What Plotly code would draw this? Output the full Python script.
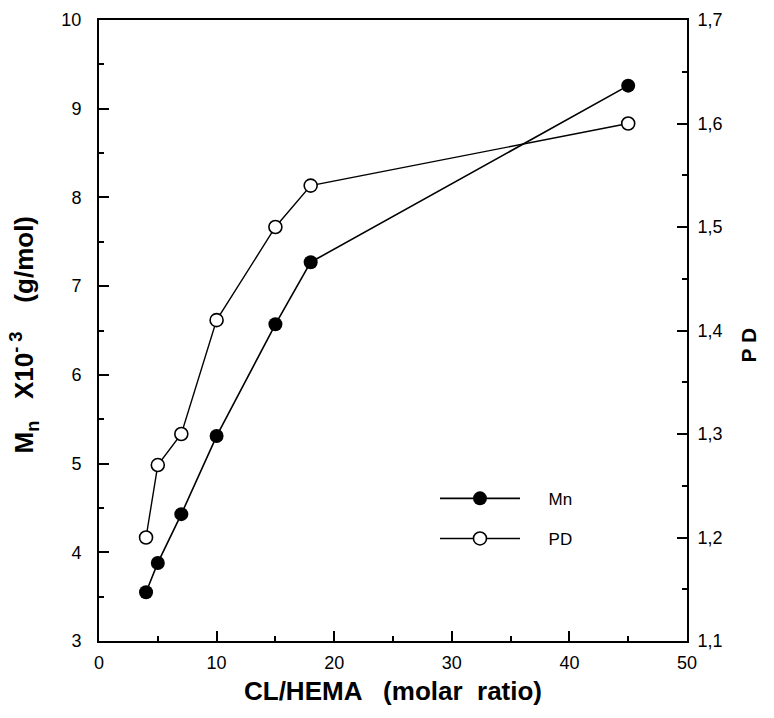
import plotly.graph_objects as go

ratio = [4, 5, 7, 10, 15, 18, 45]
mn = [3.55, 3.88, 4.43, 5.31, 6.57, 7.27, 9.26]
pd_vals = [1.20, 1.27, 1.30, 1.41, 1.50, 1.54, 1.60]

left_ticks = [3, 4, 5, 6, 7, 8, 9, 10]
right_ticks = [1.1, 1.2, 1.3, 1.4, 1.5, 1.6, 1.7]
right_labels = ["1,1", "1,2", "1,3", "1,4", "1,5", "1,6", "1,7"]
x_ticks = [0, 10, 20, 30, 40, 50]

NB = "\u00a0"

fig = go.Figure()
fig.add_trace(go.Scatter(
    x=ratio, y=mn, name=NB * 5 + "Mn", mode="lines+markers", legendgroup="a",
    line=dict(color="black", width=1.6),
    marker=dict(symbol="circle", size=14, color="black"),
))
fig.add_trace(go.Scatter(
    x=ratio, y=pd_vals, name=NB * 5 + "PD", mode="lines+markers", yaxis="y2", legendgroup="b",
    line=dict(color="black", width=1.4),
    marker=dict(symbol="circle", size=13, color="white", line=dict(color="black", width=1.6)),
))

font_tick = dict(family="Liberation Sans, Arial", size=18, color="black")
title_font = dict(family="Liberation Sans, Arial", size=26, color="black")

fig.update_layout(
    width=774, height=718,
    margin=dict(l=99, r=87, t=20, b=77, autoexpand=False),
    plot_bgcolor="white", paper_bgcolor="white",
    showlegend=True,
    legend=dict(x=0.5714, y=0.258, xanchor="left", yanchor="top",
                font=dict(family="Liberation Sans, Arial", size=17, color="black"),
                bgcolor="rgba(0,0,0,0)", itemwidth=80, tracegroupgap=15),
    xaxis=dict(range=[0, 50], tickvals=x_ticks, ticks="inside", ticklen=10, tickwidth=1.5,
               showline=True, linecolor="black", linewidth=2, mirror=True, automargin=False,
               showgrid=False, zeroline=False, tickfont=font_tick, ticklabelstandoff=4,
               minor=dict(ticks="inside", dtick=5, ticklen=5, tickwidth=1.5, tickcolor="black"),
               tickcolor="black",
               title=dict(text="<b>CL/HEMA   (molar  ratio)</b>", font=title_font, standoff=10)),
    yaxis=dict(range=[3, 10], tickvals=left_ticks, ticks="inside", ticklen=10, tickwidth=1.5,
               showline=True, linecolor="black", linewidth=2, automargin=False,
               showgrid=False, zeroline=False, tickfont=font_tick, tickcolor="black",
               ticklabelstandoff=12,
               minor=dict(ticks="inside", dtick=0.5, ticklen=5, tickwidth=1.5, tickcolor="black")),
    yaxis2=dict(range=[1.1, 1.7], tickvals=right_ticks, ticktext=right_labels, overlaying="y", side="right",
                ticks="inside", ticklen=10, tickwidth=1.5, tickcolor="black", automargin=False,
                showline=True, linecolor="black", linewidth=2, ticklabelstandoff=5,
                showgrid=False, zeroline=False, tickfont=font_tick,
                minor=dict(ticks="inside", dtick=0.05, ticklen=5, tickwidth=1.5, tickcolor="black")),
    annotations=[
        dict(text="<b>M<sub>n</sub>   X10<sup>- 3</sup>    (g/mol)</b>", xref="paper", yref="paper",
             x=0, y=0.5, xanchor="center", yanchor="middle", xshift=-75, yshift=-4,
             textangle=-90, showarrow=False, font=title_font),
        dict(text="<b>P D</b>", xref="paper", yref="paper",
             x=1, y=0.5, xanchor="center", yanchor="middle", xshift=61, yshift=-15,
             textangle=-90, showarrow=False,
             font=dict(family="Liberation Sans, Arial", size=21, color="black")),
    ],
)

fig.write_html("out.html")
